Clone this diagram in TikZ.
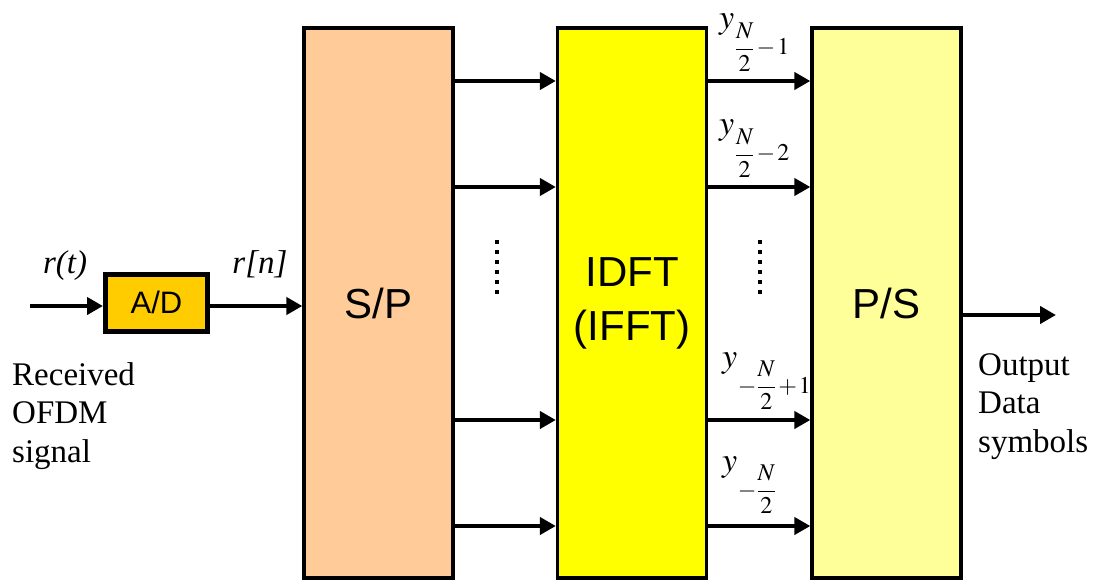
\documentclass[tikz,border=0pt]{standalone}
\usepackage{mathptmx}
\usepackage{fontspec}
\setmainfont{Liberation Serif}
\setsansfont{Liberation Sans}
\usetikzlibrary{arrows.meta}
\definecolor{peach}{HTML}{FFCC99}
\definecolor{ifftyellow}{HTML}{FFFF00}
\definecolor{psyellow}{HTML}{FFFF99}
\definecolor{adorange}{HTML}{FFCC00}
\newcommand{\ysub}[1]{$y$\hspace{0.5pt}\raisebox{-26pt}{\fontsize{24}{28}\selectfont$\medmuskip=1.5mu\displaystyle #1$}}
\tikzset{
  bigbox/.style={draw=black, line width=3.3pt, minimum width=149pt, minimum height=550pt, inner sep=0pt,
    font=\sffamily\fontsize{42}{54}\selectfont, align=center},
  sig/.style={line width=4pt, -{Triangle[length=16pt,width=17pt]}},
  serifl/.style={font=\fontsize{33}{38.5}\selectfont, inner sep=0pt, align=left},
  ylab/.style={font=\fontsize{34}{40}\selectfont, inner sep=0pt, anchor=base west},
  dots/.style={line width=4pt, dash pattern=on 4pt off 6pt}
}
\begin{document}
\begin{tikzpicture}[x=1pt,y=-1pt]
\path[fill=white] (0,0) rectangle (1095,583);
\useasboundingbox (0,0) rectangle (1095,583);

\node[bigbox, fill=peach] (SP) at (378.5,303) {\raisebox{-4pt}{S/P}};
\node[bigbox, fill=ifftyellow] (IDFT) at (632,303) {IDFT\\(IFFT)};
\node[bigbox, fill=psyellow] (PS) at (886.5,303) {\raisebox{-4pt}{P/S}};
\node[draw=black, line width=5pt, fill=adorange, minimum width=102pt, minimum height=57pt, inner sep=0pt,
  font=\sffamily\fontsize{31}{36}\selectfont] (AD) at (156.5,302.5) {A/D};

\coordinate (in) at (30,306);
\draw[sig] (in) -- (in -| AD.west);
\draw[sig] (AD.east |- in) -- (in -| SP.west);

\foreach \yy in {81,187,420,526} {
  \draw[sig] (SP.east |- 0,\yy) -- (IDFT.west |- 0,\yy);
  \draw[sig] (IDFT.east |- 0,\yy) -- (PS.west |- 0,\yy);
}
\coordinate (out) at (1056,315);
\draw[sig] (PS.east |- out) -- (out);

\coordinate (d1a) at (497,240); \coordinate (d1b) at (497,294);
\coordinate (d2a) at (760,240); \coordinate (d2b) at (760,294);
\draw[dots] (d1a) -- (d1b);
\draw[dots] (d2a) -- (d2b);

\node[serifl, anchor=base] (rt) at (65,273) {\itshape r(t)};
\node[serifl, anchor=base] (rn) at (260,273) {\itshape r[n]};
\node[serifl, anchor=north west] (rx) at (12,362) {Received\\OFDM\\signal};
\node[serifl, anchor=north west] (ox) at (978,353) {Output\\Data\\symbols};

\node[ylab] (y1) at (719,29) {\ysub{\frac{N}{2}-1}};
\node[ylab] (y2) at (719,135) {\ysub{\frac{N}{2}-2}};
\node[ylab] (y3) at (722,367) {\ysub{-\frac{N}{2}+1}};
\node[ylab] (y4) at (722,471) {\ysub{-\frac{N}{2}}};
\end{tikzpicture}
\end{document}
